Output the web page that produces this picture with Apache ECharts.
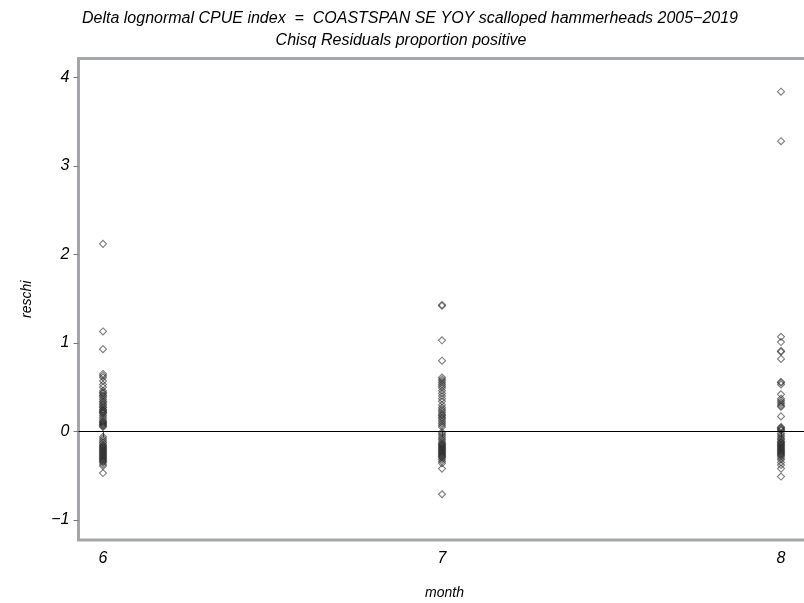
<!DOCTYPE html>
<html>
<head>
<meta charset="utf-8">
<script src="https://cdn.jsdelivr.net/npm/echarts@6/dist/echarts.min.js"></script>
<style>
html,body{margin:0;padding:0;background:#fff;}
#chart{width:804px;height:603px;}
</style>
</head>
<body>
<div id="chart"></div>
<script>
var titleLine1 = 'Delta lognormal CPUE index  =  COASTSPAN SE YOY scalloped hammerheads 2005\u22122019';
var titleLine2 = 'Chisq Residuals proportion positive';
var xName = 'month';
var yName = 'reschi';
var months = [6, 7, 8];
var xTicks = [6, 7, 8];
var yTicks = [-1, 0, 1, 2, 3, 4];

var month6 = [2.12, 1.13, 0.93, 0.65, 0.63, 0.61, 0.57, 0.53, 0.50, 0.46, 0.44, 0.43, 0.41, 0.40, 0.38, 0.36,
  0.34, 0.33, 0.31, 0.30, 0.28, 0.27, 0.25, 0.24, 0.23, 0.22, 0.21, 0.20, 0.18, 0.16, 0.14, 0.12, 0.11, 0.10,
  0.09, 0.08, 0.07, 0.06, 0.05,
  -0.06, -0.08, -0.10, -0.12, -0.13, -0.15, -0.16, -0.17, -0.18, -0.19, -0.20, -0.21, -0.22, -0.23, -0.24,
  -0.25, -0.26, -0.27, -0.28, -0.29, -0.30, -0.31, -0.32, -0.33, -0.34, -0.35, -0.37, -0.39, -0.47];
var month7 = [1.43, 1.42, 1.03, 0.80, 0.61, 0.59, 0.57, 0.55, 0.53, 0.51, 0.49, 0.46, 0.43, 0.40, 0.37, 0.34,
  0.30, 0.27, 0.25, 0.23, 0.21, 0.19, 0.18, 0.16, 0.15, 0.13, 0.11, 0.09, 0.07, 0.05,
  -0.01, -0.03, -0.05, -0.07, -0.09, -0.11, -0.13, -0.14, -0.15, -0.16, -0.17, -0.18, -0.19, -0.20, -0.21,
  -0.22, -0.23, -0.24, -0.25, -0.26, -0.27, -0.28, -0.29, -0.30, -0.32, -0.34, -0.36, -0.42, -0.71];
var month8 = [3.84, 3.28, 1.07, 1.01, 0.91, 0.90, 0.82, 0.56, 0.55, 0.53, 0.42, 0.37, 0.35, 0.33, 0.31, 0.29,
  0.28, 0.17, 0.05, 0.04, 0.03, 0.02, 0.01,
  -0.02, -0.04, -0.06, -0.08, -0.09, -0.11, -0.12, -0.13, -0.14, -0.15, -0.16, -0.17, -0.18, -0.19, -0.20,
  -0.21, -0.22, -0.23, -0.24, -0.25, -0.26, -0.27, -0.28, -0.30, -0.32, -0.35, -0.38, -0.42, -0.51];

var groups = [month6, month7, month8];
var points = [];
groups.forEach(function (vals, i) {
  vals.forEach(function (v) { points.push([months[i], v]); });
});

var font = '"Liberation Sans", Arial, sans-serif';
var chart = echarts.init(document.getElementById('chart'), null, {renderer: 'canvas'});
chart.setOption({
  animation: false,
  backgroundColor: '#fff',
  title: [
    {text: titleLine1, left: 405, top: 6, textAlign: 'center',
     textStyle: {fontFamily: font, fontStyle: 'italic', fontWeight: 'normal', fontSize: 16, color: '#000'}},
    {text: titleLine2, left: 396, top: 28, textAlign: 'center',
     textStyle: {fontFamily: font, fontStyle: 'italic', fontWeight: 'normal', fontSize: 16, color: '#000'}}
  ],
  grid: {
    left: 78.5, top: 58.5, width: 732, height: 481.5,
    outerBoundsMode: 'none', containLabel: false,
    show: true, borderColor: '#a3a7ab', borderWidth: 3, backgroundColor: '#fff'
  },
  xAxis: {
    type: 'value', min: 5.9277, max: 8.0870,
    name: xName, nameLocation: 'middle', nameGap: 46,
    nameTextStyle: {fontFamily: font, fontStyle: 'italic', fontSize: 14, color: '#000'},
    axisLine: {show: false},
    splitLine: {show: false},
    axisTick: {show: true, customValues: xTicks, length: 6, inside: false, lineStyle: {color: '#555'}},
    axisLabel: {customValues: xTicks, margin: 11, fontFamily: font, fontStyle: 'italic', fontSize: 16, color: '#000'}
  },
  yAxis: {
    type: 'value', min: -1.227, max: 4.215,
    name: yName, nameLocation: 'middle', nameGap: 44, nameRotate: 90,
    nameTextStyle: {fontFamily: font, fontStyle: 'italic', fontSize: 14, color: '#000'},
    axisLine: {show: false},
    splitLine: {show: false},
    axisTick: {show: true, customValues: yTicks, length: 5, inside: false, lineStyle: {color: '#777'}},
    axisLabel: {customValues: yTicks, margin: 9, fontFamily: font, fontStyle: 'italic', fontSize: 16, color: '#000',
      formatter: function (v) { return v < 0 ? '\u2212' + Math.abs(v) : String(v); }}
  },
  series: [{
    type: 'scatter',
    data: points,
    symbol: 'diamond',
    symbolSize: [7, 7],
    itemStyle: {color: 'rgba(0,0,0,0)', borderColor: 'rgba(40,40,40,0.75)', borderWidth: 1.1},
    markLine: {
      silent: true, symbol: 'none', label: {show: false},
      lineStyle: {color: '#000', width: 1, type: 'solid'},
      data: [{yAxis: 0}]
    }
  }]
});
</script>
</body>
</html>
